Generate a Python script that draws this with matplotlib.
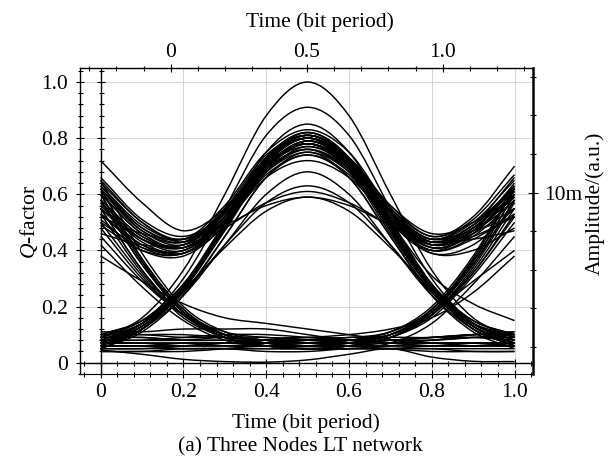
import numpy as np
import matplotlib
matplotlib.use("Agg")
import matplotlib.pyplot as plt
from matplotlib.path import Path
from matplotlib.patches import PathPatch
from matplotlib.ticker import MultipleLocator

# ---------------- data ----------------
# sample instants (bottom axis, bit period units)
t_samples = [0.0, 0.1, 0.2, 0.3, 0.4, 0.5, 0.6, 0.7, 0.8, 0.9, 1.0]

# isolated pulses (0-1-0)
traces_010 = [
    [0.09, 0.16, 0.33, 0.60, 0.88, 1.00, 0.88, 0.60, 0.33, 0.16, 0.09],
    [0.07, 0.14, 0.30, 0.55, 0.81, 0.91, 0.81, 0.55, 0.30, 0.14, 0.08],
    [0.06, 0.12, 0.27, 0.50, 0.75, 0.85, 0.75, 0.51, 0.28, 0.13, 0.07],
    [0.08, 0.13, 0.27, 0.48, 0.71, 0.81, 0.72, 0.49, 0.27, 0.13, 0.08],
    [0.05, 0.11, 0.24, 0.45, 0.66, 0.75, 0.66, 0.45, 0.24, 0.11, 0.05],
    [0.07, 0.12, 0.24, 0.42, 0.60, 0.68, 0.60, 0.42, 0.24, 0.12, 0.07],
    [0.09, 0.14, 0.25, 0.42, 0.57, 0.63, 0.57, 0.42, 0.25, 0.14, 0.09],
    [0.10, 0.15, 0.26, 0.41, 0.54, 0.59, 0.54, 0.41, 0.26, 0.15, 0.10],
    [0.06, 0.12, 0.26, 0.48, 0.70, 0.78, 0.70, 0.48, 0.26, 0.12, 0.06],
    [0.08, 0.14, 0.28, 0.50, 0.73, 0.82, 0.73, 0.50, 0.28, 0.14, 0.08],
    [0.05, 0.12, 0.26, 0.49, 0.72, 0.80, 0.72, 0.49, 0.26, 0.12, 0.06],
]

# continuous ones (1-1-1)
traces_111 = [
    [0.72, 0.57, 0.47, 0.55, 0.72, 0.80, 0.72, 0.56, 0.46, 0.50, 0.62],
    [0.64, 0.50, 0.43, 0.52, 0.70, 0.79, 0.71, 0.53, 0.43, 0.48, 0.63],
    [0.60, 0.46, 0.41, 0.51, 0.70, 0.78, 0.70, 0.51, 0.41, 0.46, 0.60],
    [0.56, 0.43, 0.39, 0.49, 0.68, 0.77, 0.69, 0.50, 0.40, 0.45, 0.58],
    [0.62, 0.48, 0.44, 0.56, 0.75, 0.83, 0.75, 0.55, 0.44, 0.49, 0.66],
    [0.53, 0.42, 0.40, 0.51, 0.68, 0.75, 0.68, 0.50, 0.40, 0.46, 0.55],
    [0.58, 0.45, 0.42, 0.54, 0.73, 0.81, 0.73, 0.56, 0.45, 0.52, 0.70],
    [0.50, 0.41, 0.40, 0.50, 0.66, 0.72, 0.66, 0.51, 0.42, 0.45, 0.52],
    [0.66, 0.51, 0.45, 0.53, 0.69, 0.76, 0.68, 0.52, 0.43, 0.49, 0.61],
    [0.55, 0.44, 0.42, 0.53, 0.70, 0.79, 0.72, 0.55, 0.45, 0.50, 0.59],
    [0.52, 0.46, 0.44, 0.49, 0.56, 0.59, 0.56, 0.49, 0.44, 0.47, 0.52],
    [0.46, 0.42, 0.42, 0.48, 0.57, 0.61, 0.57, 0.49, 0.43, 0.44, 0.47],
    [0.61, 0.47, 0.43, 0.55, 0.74, 0.81, 0.73, 0.54, 0.42, 0.47, 0.60],
    [0.57, 0.44, 0.40, 0.52, 0.72, 0.80, 0.72, 0.53, 0.41, 0.47, 0.64],
    [0.63, 0.49, 0.44, 0.54, 0.71, 0.78, 0.71, 0.54, 0.44, 0.51, 0.67],
    [0.51, 0.40, 0.38, 0.49, 0.68, 0.76, 0.69, 0.52, 0.42, 0.48, 0.60],
]

# 1-1-0
traces_110 = [
    [0.60, 0.46, 0.41, 0.52, 0.71, 0.80, 0.71, 0.48, 0.27, 0.14, 0.08],
    [0.55, 0.42, 0.39, 0.50, 0.69, 0.78, 0.69, 0.47, 0.26, 0.13, 0.07],
    [0.65, 0.50, 0.44, 0.54, 0.73, 0.82, 0.73, 0.49, 0.27, 0.14, 0.09],
    [0.49, 0.40, 0.39, 0.50, 0.67, 0.74, 0.66, 0.45, 0.25, 0.13, 0.06],
    [0.58, 0.45, 0.41, 0.52, 0.70, 0.77, 0.70, 0.50, 0.31, 0.21, 0.15],
    [0.62, 0.47, 0.42, 0.53, 0.72, 0.80, 0.72, 0.49, 0.28, 0.15, 0.10],
    [0.53, 0.41, 0.39, 0.51, 0.70, 0.79, 0.70, 0.47, 0.26, 0.13, 0.07],
    [0.63, 0.48, 0.43, 0.54, 0.73, 0.81, 0.72, 0.48, 0.27, 0.14, 0.09],
    [0.57, 0.44, 0.41, 0.52, 0.69, 0.76, 0.68, 0.46, 0.26, 0.14, 0.10],
]

# 0-1-1
traces_011 = [
    [0.08, 0.14, 0.27, 0.48, 0.71, 0.80, 0.71, 0.52, 0.41, 0.46, 0.61],
    [0.07, 0.13, 0.26, 0.47, 0.69, 0.78, 0.69, 0.50, 0.39, 0.42, 0.55],
    [0.09, 0.14, 0.27, 0.49, 0.73, 0.82, 0.73, 0.54, 0.44, 0.50, 0.65],
    [0.06, 0.13, 0.25, 0.45, 0.66, 0.74, 0.67, 0.50, 0.39, 0.40, 0.48],
    [0.05, 0.12, 0.26, 0.48, 0.70, 0.79, 0.71, 0.53, 0.43, 0.48, 0.62],
    [0.10, 0.15, 0.28, 0.49, 0.72, 0.80, 0.72, 0.52, 0.42, 0.47, 0.57],
    [0.07, 0.13, 0.27, 0.49, 0.72, 0.81, 0.73, 0.54, 0.43, 0.49, 0.63],
    [0.09, 0.15, 0.28, 0.48, 0.70, 0.78, 0.70, 0.51, 0.40, 0.44, 0.53],
    [0.06, 0.12, 0.26, 0.48, 0.71, 0.80, 0.72, 0.53, 0.42, 0.47, 0.59],
]

# 1-0-0
traces_100 = [
    [0.60, 0.36, 0.18, 0.10, 0.08, 0.07, 0.07, 0.07, 0.07, 0.07, 0.07],
    [0.55, 0.33, 0.17, 0.09, 0.07, 0.06, 0.06, 0.06, 0.07, 0.06, 0.06],
    [0.65, 0.39, 0.20, 0.11, 0.08, 0.08, 0.07, 0.08, 0.08, 0.09, 0.09],
    [0.50, 0.31, 0.16, 0.09, 0.06, 0.05, 0.05, 0.05, 0.05, 0.04, 0.04],
    [0.58, 0.35, 0.18, 0.10, 0.09, 0.08, 0.08, 0.09, 0.09, 0.10, 0.10],
    [0.45, 0.29, 0.17, 0.10, 0.08, 0.07, 0.06, 0.06, 0.06, 0.06, 0.06],
    [0.38, 0.29, 0.21, 0.16, 0.14, 0.12, 0.10, 0.08, 0.07, 0.07, 0.06],
    [0.62, 0.37, 0.19, 0.10, 0.07, 0.06, 0.06, 0.06, 0.06, 0.07, 0.07],
    [0.53, 0.32, 0.17, 0.10, 0.08, 0.08, 0.08, 0.08, 0.09, 0.09, 0.08],
]

# 0-0-1
traces_001 = [
    [0.07, 0.07, 0.07, 0.07, 0.07, 0.07, 0.08, 0.10, 0.18, 0.36, 0.60],
    [0.06, 0.06, 0.07, 0.06, 0.06, 0.06, 0.07, 0.09, 0.17, 0.33, 0.55],
    [0.09, 0.09, 0.08, 0.08, 0.07, 0.08, 0.08, 0.11, 0.20, 0.38, 0.63],
    [0.04, 0.04, 0.05, 0.05, 0.05, 0.05, 0.06, 0.09, 0.16, 0.31, 0.50],
    [0.10, 0.10, 0.09, 0.09, 0.08, 0.08, 0.09, 0.10, 0.18, 0.35, 0.58],
    [0.05, 0.05, 0.06, 0.07, 0.08, 0.09, 0.10, 0.12, 0.16, 0.25, 0.38],
    [0.06, 0.06, 0.06, 0.06, 0.06, 0.07, 0.08, 0.11, 0.18, 0.29, 0.40],
    [0.07, 0.07, 0.06, 0.06, 0.06, 0.06, 0.07, 0.10, 0.19, 0.37, 0.62],
    [0.08, 0.08, 0.08, 0.09, 0.08, 0.08, 0.08, 0.10, 0.17, 0.32, 0.53],
]

# 1-0-1
traces_101 = [
    [0.62, 0.37, 0.19, 0.10, 0.08, 0.07, 0.08, 0.10, 0.19, 0.37, 0.62],
    [0.55, 0.33, 0.17, 0.09, 0.06, 0.05, 0.06, 0.09, 0.17, 0.34, 0.57],
    [0.58, 0.35, 0.18, 0.11, 0.09, 0.09, 0.09, 0.11, 0.19, 0.36, 0.60],
    [0.48, 0.30, 0.17, 0.10, 0.07, 0.06, 0.07, 0.09, 0.17, 0.32, 0.52],
    [0.42, 0.27, 0.15, 0.08, 0.06, 0.05, 0.05, 0.07, 0.14, 0.28, 0.45],
    [0.60, 0.36, 0.18, 0.09, 0.06, 0.05, 0.06, 0.09, 0.18, 0.35, 0.58],
]

# 0-0-0
traces_000 = [
    [0.07, 0.07, 0.07, 0.07, 0.06, 0.06, 0.06, 0.07, 0.07, 0.07, 0.07],
    [0.05, 0.05, 0.05, 0.05, 0.05, 0.05, 0.05, 0.05, 0.05, 0.05, 0.05],
    [0.09, 0.09, 0.08, 0.08, 0.08, 0.07, 0.07, 0.08, 0.08, 0.09, 0.10],
    [0.11, 0.11, 0.12, 0.12, 0.12, 0.10, 0.08, 0.07, 0.08, 0.10, 0.11],
    [0.045, 0.030, 0.012, 0.004, 0.002, 0.010, 0.030, 0.050, 0.020, 0.005, 0.004],
    [0.08, 0.08, 0.09, 0.10, 0.10, 0.09, 0.08, 0.08, 0.09, 0.10, 0.10],
    [0.06, 0.06, 0.06, 0.07, 0.07, 0.08, 0.08, 0.07, 0.06, 0.06, 0.06],
    [0.04, 0.04, 0.04, 0.05, 0.06, 0.06, 0.06, 0.05, 0.04, 0.04, 0.04],
    [0.10, 0.10, 0.10, 0.09, 0.08, 0.07, 0.07, 0.08, 0.09, 0.10, 0.11],
    [0.06, 0.06, 0.05, 0.05, 0.04, 0.04, 0.05, 0.05, 0.06, 0.06, 0.07],
]

x_ticks = [0.0, 0.2, 0.4, 0.6, 0.8, 1.0]
x_tick_labels = ["0", "0.2", "0.4", "0.6", "0.8", "1.0"]
y_ticks = [0.0, 0.2, 0.4, 0.6, 0.8, 1.0]
y_tick_labels = ["0", "0.2", "0.4", "0.6", "0.8", "1.0"]
top_ticks = [0.0, 0.5, 1.0]
top_tick_labels = ["0", "0.5", "1.0"]
right_ticks = [10e-3]
right_tick_labels = ["10m"]

# ---------------- style ----------------
plt.rcParams["font.family"] = ["Liberation Serif", "DejaVu Serif"]
plt.rcParams["font.size"] = 15.5
plt.rcParams["mathtext.fontset"] = "custom"
plt.rcParams["mathtext.it"] = "Liberation Serif:italic"
plt.rcParams["mathtext.rm"] = "Liberation Serif"

W, H = 612, 468
fig = plt.figure(figsize=(W / 100, H / 100), dpi=100)


def fx(px):
    return px / W


def fy(py):
    return 1 - py / H


L, R, T, B = 80, 533, 68.3, 374.3
pos = [fx(L), fy(B), fx(R) - fx(L), fy(T) - fy(B)]
xlim = (-0.05, 1.0447)
ylim = (-0.0413, 1.0488)

ax = fig.add_axes(pos)
ax.set_xlim(*xlim)
ax.set_ylim(*ylim)
ax.set_xticks(x_ticks, x_tick_labels)
ax.set_yticks(y_ticks, y_tick_labels)
ax.xaxis.set_minor_locator(MultipleLocator(0.04))
ax.yaxis.set_minor_locator(MultipleLocator(0.04))
ax.tick_params(which="both", direction="inout", top=False, right=False, width=0.8)
ax.tick_params(which="major", length=5.8)
ax.tick_params(which="minor", length=3.6)
ax.tick_params(axis="y", which="major", pad=5.7)
ax.tick_params(axis="x", which="major", pad=3.4)
ax.grid(True, which="major", color="#d4d4d4", lw=0.7)
ax.set_axisbelow(True)
for s in ax.spines.values():
    s.set_linewidth(1.0)
ax.spines["right"].set_linewidth(1.8)
ax.spines["bottom"].set_linewidth(0.8)


def smooth_path(xs, ys):
    pts = np.column_stack([xs, ys]).astype(float)
    ext = np.vstack([2 * pts[0] - pts[1], pts, 2 * pts[-1] - pts[-2]])
    verts = [pts[0]]
    codes = [Path.MOVETO]
    for i in range(1, len(ext) - 2):
        p0, p1, p2, p3 = ext[i - 1], ext[i], ext[i + 1], ext[i + 2]
        c1 = p1 + (p2 - p0) / 6.0
        c2 = p2 - (p3 - p1) / 6.0
        verts += [c1, c2, p2]
        codes += [Path.CURVE4] * 3
    return Path(verts, codes)


for group in (traces_000, traces_101, traces_100, traces_001,
              traces_010, traces_110, traces_011, traces_111):
    for ys in group:
        ax.add_patch(PathPatch(smooth_path(t_samples, ys), fill=False,
                               edgecolor="black", lw=1.05, zorder=2))

# inner axis lines at x=0 and y=0 with ticks
ax_in = fig.add_axes(pos)
ax_in.patch.set_visible(False)
ax_in.set_xlim(*xlim)
ax_in.set_ylim(*ylim)
ax_in.set_xticks(x_ticks)
ax_in.set_yticks(y_ticks)
ax_in.xaxis.set_minor_locator(MultipleLocator(0.04))
ax_in.yaxis.set_minor_locator(MultipleLocator(0.04))
ax_in.spines["top"].set_visible(False)
ax_in.spines["right"].set_visible(False)
ax_in.spines["left"].set_position(("data", 0))
ax_in.spines["bottom"].set_position(("data", 0))
ax_in.spines["left"].set_linewidth(1.0)
ax_in.spines["bottom"].set_linewidth(1.0)
ax_in.tick_params(which="both", direction="inout", labelleft=False,
                  labelbottom=False, top=False, right=False, width=0.8)
ax_in.tick_params(which="major", length=5.8)
ax_in.tick_params(which="minor", length=3.6)

# top axis (bit period)
ax_top = fig.add_axes(pos, frameon=False)
ax_top.patch.set_visible(False)
ax_top.set_xlim(-0.3335, 1.332)
ax_top.xaxis.tick_top()
ax_top.set_xticks(top_ticks, top_tick_labels)
ax_top.xaxis.set_minor_locator(MultipleLocator(0.1))
ax_top.yaxis.set_visible(False)
ax_top.tick_params(axis="x", which="both", direction="inout", width=0.8)
ax_top.tick_params(axis="x", which="major", length=5.8, pad=1.5)
ax_top.tick_params(axis="x", which="minor", length=3.6)

# right axis (amplitude)
ax_r = fig.add_axes(pos, frameon=False)
ax_r.patch.set_visible(False)
ax_r.set_ylim(0.56e-3, 16.45e-3)
ax_r.yaxis.tick_right()
ax_r.set_yticks(right_ticks, right_tick_labels)
ax_r.yaxis.set_minor_locator(MultipleLocator(2e-3))
ax_r.xaxis.set_visible(False)
ax_r.tick_params(axis="y", which="both", direction="inout", width=0.8)
ax_r.tick_params(axis="y", which="major", length=6.5, pad=4.5)
ax_r.tick_params(axis="y", which="minor", length=4.0)

# labels
fig.text(fx(320), fy(22), "Time (bit period)", ha="center", va="center")
fig.text(fx(306), fy(423), "Time (bit period)", ha="center", va="center")
fig.text(fx(300), fy(447), "(a) Three Nodes LT network", ha="center", va="center")
fig.text(fx(29), fy(222), "$Q$-factor", rotation=90, ha="center", va="center")
fig.text(fx(595), fy(203), "Amplitude/(a.u.)", rotation=90, ha="center", va="center")

fig.savefig("out.png", dpi=100)
